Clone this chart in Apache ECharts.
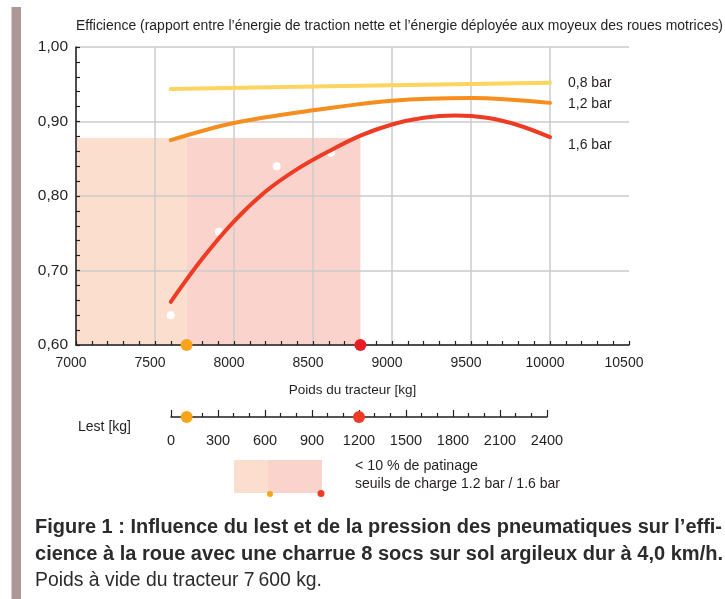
<!DOCTYPE html>
<html>
<head>
<meta charset="utf-8">
<script src="https://cdn.jsdelivr.net/npm/echarts@6/dist/echarts.min.js"></script>
<style>html,body{margin:0;padding:0;background:#fff}#container{width:725px;height:599px}</style>
</head>
<body>
<div id="container"></div>
<script>
var FONT = "'Liberation Sans', Arial, sans-serif";
var INK = '#231f20';

// Poids du tracteur [kg] -> efficience, par pression
var poids08 = [7600, 8500, 9500, 10000];
var eff08 = [0.9435, 0.947, 0.9505, 0.952];
var poids12 = [7600, 8000, 8500, 9000, 9500, 10000];
var eff12 = [0.875, 0.898, 0.915, 0.928, 0.9315, 0.925];
var poids16 = [7600, 7800, 8000, 8200, 8400, 8600, 8800, 9000, 9200, 9400, 9600, 9800, 10000];
var eff16 = [0.658, 0.716, 0.766, 0.806, 0.836, 0.860, 0.881, 0.896, 0.905, 0.908, 0.905, 0.895, 0.879];
var pressions = ['0,8 bar', '1,2 bar', '1,6 bar'];

// mesures (points blancs)
var mesPoids = [7600, 7905, 8270, 8615];
var mesEff = [0.640, 0.752, 0.840, 0.858];

// seuils de charge 1.2 bar / 1.6 bar
var seuilPoids = [7700, 8800];
var seuilLest = [100, 1200];
var patinageMax = 0.878; // haut de la zone < 10 % de patinage
var poidsMin = 7000;

function pairs(xs, ys) {
  var out = [];
  for (var i = 0; i < xs.length; i++) out.push([xs[i], ys[i]]);
  return out;
}

// texte "condensé" : on mesure puis on comprime horizontalement
var ctx = document.createElement('canvas').getContext('2d');
function txt(text, x, y, size, width, bold, color) {
  var font = (bold ? 'bold ' : '') + size + 'px ' + FONT;
  ctx.font = font;
  var sx = width / ctx.measureText(text).width;
  return {
    type: 'text', x: x, y: y, scaleX: sx,
    style: {
      text: text, fill: color || INK, fontFamily: FONT, fontSize: size,
      fontWeight: bold ? 'bold' : 'normal', verticalAlign: 'middle'
    }
  };
}

var dom = document.getElementById('container');
var myChart = echarts.init(dom);

function courbe(nom, xs, ys, color, off) {
  return {
    name: nom,
    type: 'line',
    z: 3,
    data: pairs(xs, ys),
    smooth: 0.35,
    showSymbol: false,
    symbol: 'none',
    lineStyle: { color: color, width: 4, cap: 'round' },
    itemStyle: { color: color },
    endLabel: {
      show: true,
      formatter: nom,
      distance: 18,
      offset: [0, off],
      color: INK,
      fontFamily: FONT,
      fontSize: 14
    }
  };
}

var option = {
  animation: false,
  backgroundColor: '#fff',
  grid: [
    { left: 76, top: 47, width: 553, height: 298 },
    { left: 171, top: 400, width: 376, height: 17 }
  ],
  xAxis: [{
    gridIndex: 0,
    type: 'value',
    min: 7000, max: 10500, interval: 500,
    z: 1.5,
    name: 'Poids du tracteur [kg]',
    nameLocation: 'middle',
    nameGap: 38,
    nameTextStyle: { color: INK, fontFamily: FONT, fontSize: 13.5 },
    axisLine: { lineStyle: { color: INK, width: 1.5 } },
    axisTick: { inside: true, length: 4, lineStyle: { color: INK, width: 1.2 } },
    minorTick: { show: true, splitNumber: 5, length: 4, lineStyle: { color: INK, width: 1.2 } },
    splitLine: { show: true, showMaxLine: false, lineStyle: { color: '#cbcbcb', width: 1.5 } },
    axisLabel: {
      color: INK, fontFamily: FONT, fontSize: 14, margin: 11, padding: [0, 10, 0, 0],
      formatter: function (v) { return String(v); }
    }
  }, {
    gridIndex: 1,
    type: 'value',
    min: 0, max: 2400, interval: 300,
    axisLine: { lineStyle: { color: INK, width: 1.5 } },
    axisTick: { inside: true, length: 7, lineStyle: { color: INK, width: 1.2 } },
    minorTick: { show: true, splitNumber: 3, length: 4, lineStyle: { color: INK, width: 1.2 } },
    splitLine: { show: false },
    axisLabel: {
      color: INK, fontFamily: FONT, fontSize: 14.5, margin: 16,
      formatter: function (v) { return String(v); }
    }
  }],
  yAxis: [{
    gridIndex: 0,
    type: 'value',
    min: 0.6, max: 1.0, interval: 0.1,
    z: 1.5,
    axisLine: { show: true, lineStyle: { color: INK, width: 1.5 } },
    axisTick: { inside: true, length: 4, lineStyle: { color: INK, width: 1.2 } },
    minorTick: { show: true, splitNumber: 5, length: 4, lineStyle: { color: INK, width: 1.2 } },
    splitLine: { show: true, lineStyle: { color: '#cbcbcb', width: 1.5 } },
    axisLabel: {
      color: INK, fontFamily: FONT, fontSize: 15.5, margin: 8,
      formatter: function (v) { return v.toFixed(2).replace('.', ','); }
    }
  }, {
    gridIndex: 1,
    type: 'value',
    min: 0, max: 1,
    show: false
  }],
  series: [
    {
      name: 'zones',
      type: 'line',
      z: 1,
      data: [],
      markArea: {
        silent: true,
        data: [
          [{ xAxis: poidsMin, yAxis: 0.6, itemStyle: { color: '#fcdece' } },
           { xAxis: seuilPoids[0], yAxis: patinageMax }],
          [{ xAxis: seuilPoids[0], yAxis: 0.6, itemStyle: { color: '#fad3cc' } },
           { xAxis: seuilPoids[1], yAxis: patinageMax }]
        ]
      }
    },
    {
      name: 'mesures',
      type: 'scatter',
      z: 2,
      symbolSize: 8,
      itemStyle: { color: '#ffffff', opacity: 1 },
      data: pairs(mesPoids, mesEff)
    },
    courbe(pressions[0], poids08, eff08, '#fdd460', 0),
    courbe(pressions[1], poids12, eff12, '#f68d1f', 1),
    courbe(pressions[2], poids16, eff16, '#ee3b24', 8),
    {
      name: 'seuils',
      type: 'scatter',
      z: 5,
      clip: false,
      symbolSize: 12,
      data: [
        { value: [seuilPoids[0], 0.6], itemStyle: { color: '#f8a51c', opacity: 1 } },
        { value: [seuilPoids[1], 0.6], itemStyle: { color: '#e81e26', opacity: 1 } }
      ]
    },
    {
      name: 'lest',
      type: 'scatter',
      xAxisIndex: 1,
      yAxisIndex: 1,
      z: 5,
      clip: false,
      symbolSize: 12,
      data: [
        { value: [seuilLest[0], 0], itemStyle: { color: '#f8a51c', opacity: 1 } },
        { value: [seuilLest[1], 0], itemStyle: { color: '#ee3b24', opacity: 1 } }
      ]
    }
  ],
  graphic: [
    { type: 'rect', shape: { x: 11.5, y: 7, width: 9.5, height: 600 }, style: { fill: '#ad9797' } },
    txt('Efficience (rapport entre l\u2019\u00e9nergie de traction nette et l\u2019\u00e9nergie d\u00e9ploy\u00e9e aux moyeux des roues motrices)', 76, 26, 15.5, 647),
    txt('Lest [kg]', 78, 427, 15, 53),
    { type: 'rect', shape: { x: 234, y: 460, width: 34, height: 33 }, style: { fill: '#fcdece' } },
    { type: 'rect', shape: { x: 268, y: 460, width: 54, height: 33 }, style: { fill: '#fad3cc' } },
    { type: 'circle', shape: { cx: 270, cy: 494, r: 3 }, style: { fill: '#f8a51c' } },
    { type: 'circle', shape: { cx: 321, cy: 493.5, r: 3.5 }, style: { fill: '#ee3b24' } },
    txt('< 10 % de patinage', 355, 466, 15, 123),
    txt('seuils de charge 1.2 bar / 1.6 bar', 355, 484, 15, 205),
    txt('Figure 1 : Influence du lest et de la pression des pneumatiques sur l\u2019effi-', 35, 528, 19.5, 687, true, '#2b2b2b'),
    txt('cience \u00e0 la roue avec une charrue 8 socs sur sol argileux dur \u00e0 4,0 km/h.', 35, 555, 19.5, 688, true, '#2b2b2b'),
    txt('Poids \u00e0 vide du tracteur 7\u202f600 kg.', 35, 581, 19.5, 287, false, '#2b2b2b')
  ]
};

myChart.setOption(option, true);
</script>
</body>
</html>
